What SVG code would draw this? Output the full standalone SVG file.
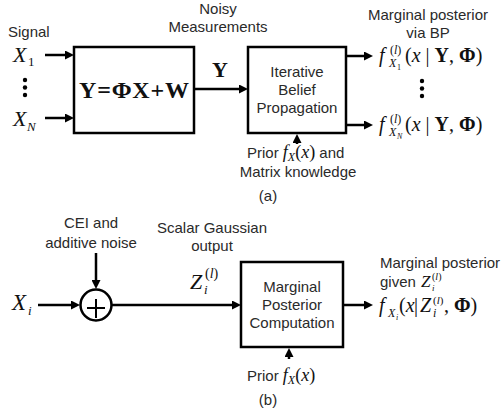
<svg xmlns="http://www.w3.org/2000/svg" width="503" height="410" viewBox="0 0 503 410">
<style>
.lbl{font-family:"Liberation Sans",Arial,sans-serif;font-size:15px;fill:#2a2a2a}
.c{text-anchor:middle}
.m{font-family:"Liberation Serif","Times New Roman",serif;fill:#111}
.it{font-style:italic}
.b{font-weight:bold}
.box{fill:#fff;stroke:#000;stroke-width:2.5}
.ln{fill:none;stroke:#000;stroke-width:2.5;marker-end:url(#ah)}
</style>
<defs>
<marker id="ah" markerUnits="userSpaceOnUse" viewBox="0 0 9 9" markerWidth="9" markerHeight="9" refX="3" refY="4.5" orient="auto">
<path d="M0,0 L9,4.5 L0,9 Z" fill="#000"/>
</marker>
</defs>
<rect width="503" height="410" fill="#fff"/>

<g id="connectors">
<line class="ln" x1="45" y1="55" x2="68" y2="55"/>
<line class="ln" x1="45" y1="118" x2="68" y2="118"/>
<line class="ln" x1="194" y1="89" x2="242" y2="89"/>
<line class="ln" x1="346" y1="56" x2="367" y2="56"/>
<line class="ln" x1="346" y1="125" x2="367" y2="125"/>
<line class="ln" x1="297" y1="144" x2="297" y2="140"/>
<line class="ln" x1="96" y1="253" x2="96" y2="283"/>
<line class="ln" x1="38" y1="305" x2="74" y2="305"/>
<line class="ln" x1="111" y1="305" x2="235" y2="305"/>
<line class="ln" x1="343" y1="305" x2="367" y2="305"/>
<line class="ln" x1="289" y1="359" x2="289" y2="354"/>
</g>

<g id="signal">
<text class="lbl" x="8" y="37">Signal</text>
<text class="m it" x="13" y="62" font-size="22">X</text>
<text class="m" x="28" y="66" font-size="13">1</text>
<circle cx="25" cy="80" r="2.2" fill="#000"/>
<circle cx="25" cy="87.5" r="2.2" fill="#000"/>
<circle cx="25" cy="95" r="2.2" fill="#000"/>
<text class="m it" x="13" y="126" font-size="22">X</text>
<text class="m it" x="27" y="131" font-size="13">N</text>
</g>

<g id="measurement">
<rect class="box" x="74" y="47" width="120" height="86"/>
<text class="m b" x="79" y="98" font-size="24" textLength="110" lengthAdjust="spacing">Y=ΦX+W</text>
</g>

<g id="noisy-label">
<text class="lbl c" x="218" y="14">Noisy</text>
<text class="lbl c" x="218" y="32">Measurements</text>
<text class="m b c" x="220" y="77" font-size="22">Y</text>
</g>

<g id="bp">
<rect class="box" x="248" y="47" width="98" height="86"/>
<text class="lbl c" x="297" y="77">Iterative</text>
<text class="lbl c" x="297" y="95">Belief</text>
<text class="lbl c" x="297" y="113">Propagation</text>
</g>

<g id="prior-a">
<text class="lbl" x="247" y="158">Prior <tspan class="m it" font-size="18">f</tspan><tspan class="m it" font-size="12" dy="3">X</tspan><tspan class="m" font-size="18" dy="-3">(<tspan class="it">x</tspan>)</tspan> and</text>
<text class="lbl c" x="298" y="177">Matrix knowledge</text>
<text class="lbl c" x="268" y="201">(a)</text>
</g>

<g id="posterior-a">
<text class="lbl c" x="428" y="20">Marginal posterior</text>
<text class="lbl c" x="428" y="38">via BP</text>
<text class="m it" x="379" y="62" font-size="20">f</text>
<text class="m" x="390" y="54" font-size="12">(<tspan class="it">l</tspan>)</text>
<text class="m it" x="389" y="67" font-size="12">X</text>
<text class="m" x="397" y="70" font-size="8">1</text>
<text class="m" x="405" y="62" font-size="20">(<tspan class="it">x</tspan> | <tspan class="b">Y</tspan>, <tspan class="b">Φ</tspan>)</text>
<circle cx="422" cy="81" r="2.2" fill="#000"/>
<circle cx="422" cy="88.5" r="2.2" fill="#000"/>
<circle cx="422" cy="96" r="2.2" fill="#000"/>
<text class="m it" x="379" y="131" font-size="20">f</text>
<text class="m" x="390" y="123" font-size="12">(<tspan class="it">l</tspan>)</text>
<text class="m it" x="389" y="136" font-size="12">X</text>
<text class="m it" x="397" y="139" font-size="8">N</text>
<text class="m" x="405" y="131" font-size="20">(<tspan class="it">x</tspan> | <tspan class="b">Y</tspan>, <tspan class="b">Φ</tspan>)</text>
</g>

<g id="cei">
<text class="lbl c" x="91" y="228">CEI and</text>
<text class="lbl c" x="91" y="248">additive noise</text>
</g>

<g id="xi">
<text class="m it" x="12" y="310" font-size="23">X</text>
<text class="m it" x="28" y="315" font-size="13">i</text>
</g>

<g id="adder">
<circle cx="96" cy="305" r="15.5" fill="#fff" stroke="#000" stroke-width="2.5"/>
<line x1="87" y1="308" x2="105" y2="308" stroke="#000" stroke-width="2"/>
<line x1="96" y1="299" x2="96" y2="318" stroke="#000" stroke-width="2"/>
</g>

<g id="scalar-label">
<text class="lbl c" x="212" y="233">Scalar Gaussian</text>
<text class="lbl c" x="212" y="251">output</text>
<text class="m it" x="190" y="289" font-size="22">Z</text>
<text class="m" x="205" y="278" font-size="14">(<tspan class="it">l</tspan>)</text>
<text class="m it" x="204" y="294" font-size="13">i</text>
</g>

<g id="mpc">
<rect class="box" x="241" y="262" width="102" height="85"/>
<text class="lbl c" x="292" y="292">Marginal</text>
<text class="lbl c" x="292" y="310">Posterior</text>
<text class="lbl c" x="292" y="328">Computation</text>
</g>

<g id="prior-b">
<text class="lbl" x="247" y="381">Prior <tspan class="m it" font-size="18">f</tspan><tspan class="m it" font-size="12" dy="3">X</tspan><tspan class="m" font-size="18" dy="-3">(<tspan class="it">x</tspan>)</tspan></text>
<text class="lbl c" x="268" y="405">(b)</text>
</g>

<g id="posterior-b">
<text class="lbl" x="380" y="287">given</text>
<text class="lbl" x="380" y="268">Marginal posterior</text>
<text class="m it" x="421" y="287" font-size="17">Z</text>
<text class="m" x="432" y="280" font-size="10">(<tspan class="it">l</tspan>)</text>
<text class="m it" x="432" y="291" font-size="9">i</text>
<text class="m it" x="379" y="312" font-size="20">f</text>
<text class="m it" x="388" y="317" font-size="12">X</text>
<text class="m it" x="396" y="320" font-size="8">i</text>
<text class="m" x="399" y="312" font-size="20">(<tspan class="it">x</tspan></text>
<text class="m" x="414" y="312" font-size="20">|</text>
<text class="m it" x="420" y="312" font-size="20">Z</text>
<text class="m" x="433" y="304" font-size="11">(<tspan class="it">l</tspan>)</text>
<text class="m it" x="433" y="317" font-size="12">i</text>
<text class="m" x="444" y="312" font-size="20">, <tspan class="b">Φ</tspan>)</text>
</g>
</svg>
